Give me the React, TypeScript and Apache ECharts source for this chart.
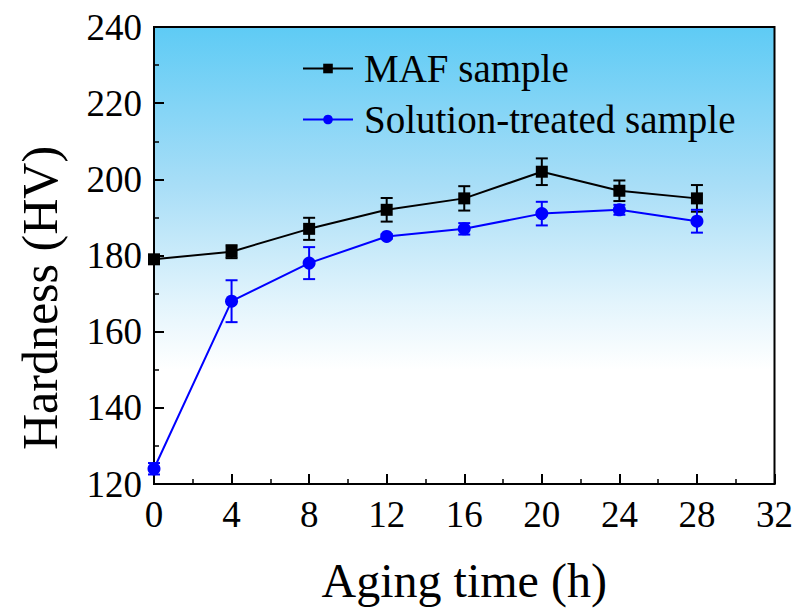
import React, { useEffect, useRef } from "react";
import * as echarts from "echarts";

const agingTime = [0, 4, 8, 12, 16, 20, 24, 28];
const mafHardness = [179, 181, 187, 192, 195, 202, 197, 195];
const mafError = [1, 1.7, 2.9, 3.1, 3.2, 3.5, 2.7, 3.5];
const solHardness = [124, 168, 178, 185, 187, 191, 192, 189];
const solError = [1.5, 5.5, 4.2, 0.6, 1.5, 3.1, 1.3, 3];
const seriesNames = ["MAF sample", "Solution-treated sample"];
const xAxisTitle = "Aging time (h)";
const yAxisTitle = "Hardness (HV)";

const FONT = "Liberation Serif";

function errData(vals: number[], errs: number[]) {
  return agingTime.map((x, i) => [x, vals[i] - errs[i], vals[i] + errs[i]]);
}

function errorSeries(vals: number[], errs: number[], color: string) {
  return {
    type: "custom",
    data: errData(vals, errs),
    z: 2,
    silent: true,
    renderItem: (params: any, api: any) => {
      const x = api.value(0);
      const lo = api.coord([x, api.value(1)]);
      const hi = api.coord([x, api.value(2)]);
      const cap = 6;
      const style = { stroke: color, lineWidth: 2 };
      return {
        type: "group",
        children: [
          { type: "line", shape: { x1: lo[0], y1: lo[1], x2: hi[0], y2: hi[1] }, style },
          { type: "line", shape: { x1: lo[0] - cap, y1: lo[1], x2: lo[0] + cap, y2: lo[1] }, style },
          { type: "line", shape: { x1: hi[0] - cap, y1: hi[1], x2: hi[0] + cap, y2: hi[1] }, style },
        ],
      };
    },
  };
}

export default function App() {
  const ref = useRef<HTMLDivElement>(null);
  useEffect(() => {
    const chart = echarts.init(ref.current!, null, { renderer: "svg" });
    const axisCommon = {
      axisLine: { show: true, lineStyle: { color: "#000", width: 2 } },
      axisTick: { show: true, inside: true, length: 10, lineStyle: { color: "#000", width: 2 } },
      minorTick: { show: true, splitNumber: 2, length: 5, lineStyle: { color: "#000", width: 1.5 } },
      splitLine: { show: false },
      axisLabel: { color: "#000", fontSize: 37, fontFamily: FONT, margin: 12 },
      nameTextStyle: { color: "#000", fontSize: 48, fontFamily: FONT },
    };
    chart.setOption({
      animation: false,
      grid: {
        left: 154,
        right: 20,
        top: 27,
        bottom: 119,
        show: true,
        borderColor: "#000",
        borderWidth: 2,
        backgroundColor: new echarts.graphic.LinearGradient(0, 0, 0, 1, [
          { offset: 0, color: "#5ecbf5" },
          { offset: 0.35, color: "#a9def7" },
          { offset: 0.6, color: "#e2f4fc" },
          { offset: 0.75, color: "#ffffff" },
          { offset: 1, color: "#ffffff" },
        ]),
      },
      graphic: [
        {
          type: "text",
          x: 40,
          y: 298,
          rotation: Math.PI / 2,
          style: {
            text: yAxisTitle,
            fill: "#000",
            font: `50px "${FONT}"`,
            align: "center",
            verticalAlign: "middle",
          },
        },
      ],
      legend: {
        left: 297,
        top: 44,
        orient: "vertical",
        itemWidth: 50,
        itemHeight: 12,
        itemGap: 12,
        data: seriesNames,
        textStyle: { color: "#000", fontSize: 39, fontFamily: FONT, lineHeight: 38, padding: [0, 0, 0, 6] },
      },
      xAxis: {
        type: "value",
        min: 0,
        max: 32,
        interval: 4,
        name: xAxisTitle,
        nameLocation: "middle",
        nameGap: 72,
        ...axisCommon,
      },
      yAxis: {
        type: "value",
        min: 120,
        max: 240,
        interval: 20,
        ...axisCommon,
      },
      series: [
        errorSeries(mafHardness, mafError, "#000"),
        errorSeries(solHardness, solError, "#0000ff"),
        {
          name: seriesNames[0],
          type: "line",
          data: agingTime.map((x, i) => [x, mafHardness[i]]),
          symbol: "rect",
          symbolSize: 12,
          itemStyle: { color: "#000" },
          lineStyle: { color: "#000", width: 2 },
          z: 4,
        },
        {
          name: seriesNames[1],
          type: "line",
          data: agingTime.map((x, i) => [x, solHardness[i]]),
          symbol: "circle",
          symbolSize: 13,
          itemStyle: { color: "#0000ff" },
          lineStyle: { color: "#0000ff", width: 2 },
          z: 3,
        },
      ],
    });
    return () => chart.dispose();
  }, []);
  return (
    <div
      ref={ref}
      style={{ position: "absolute", left: 0, top: 0, width: 796, height: 609 }}
    />
  );
}
